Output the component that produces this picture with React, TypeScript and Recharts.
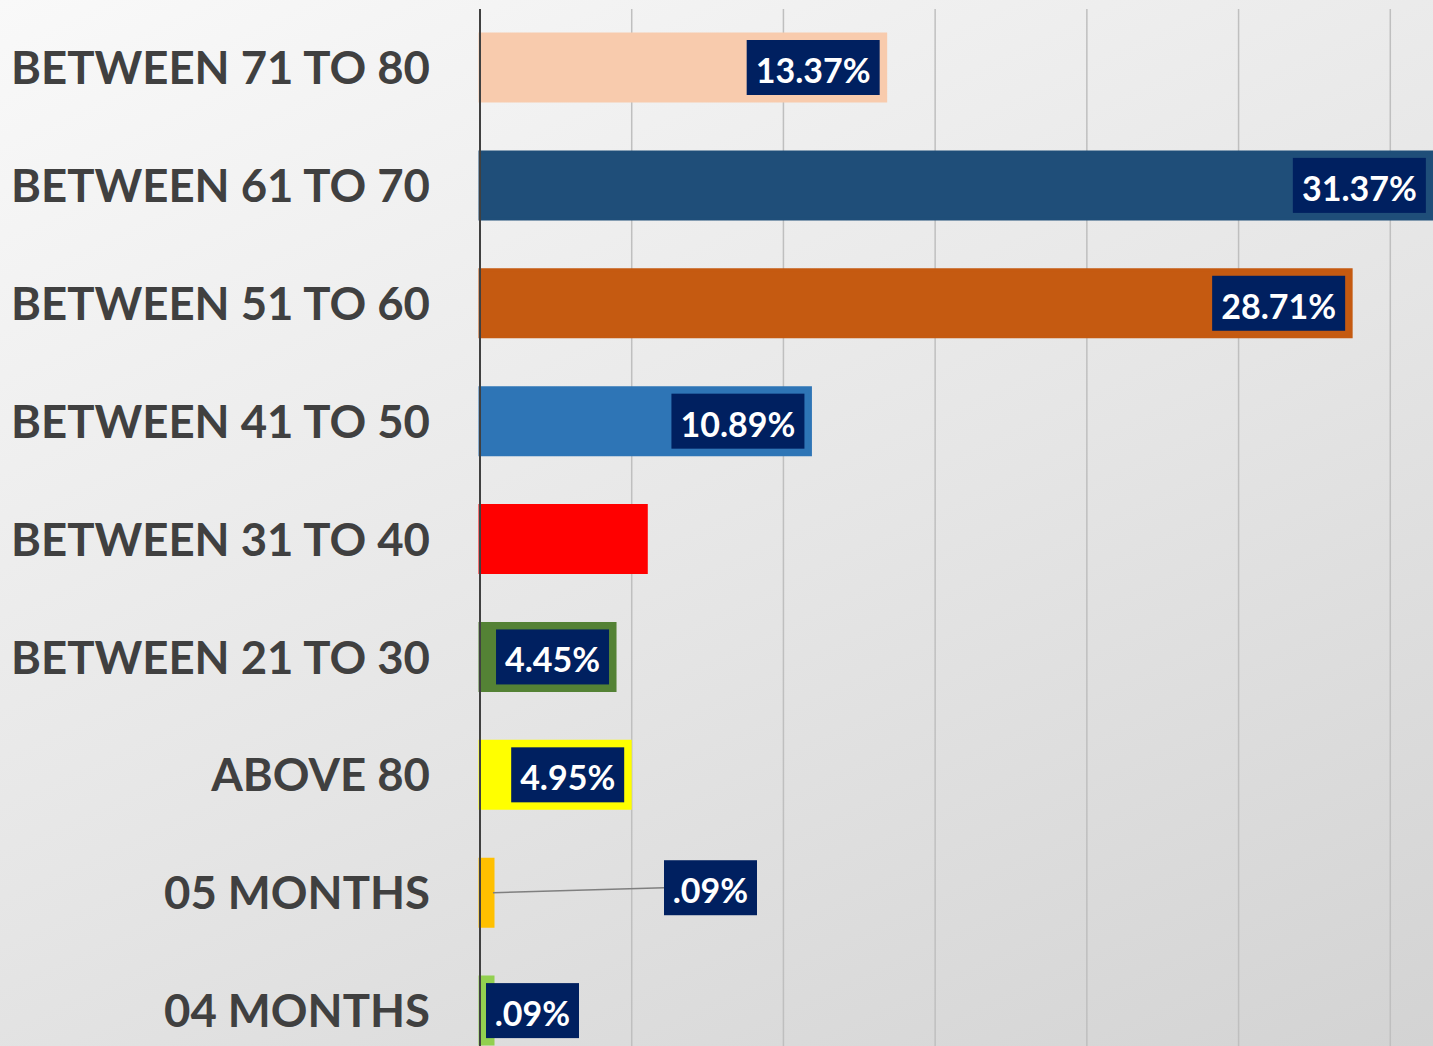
import { BarChart, Bar, XAxis, YAxis, CartesianGrid, LabelList, Cell, Rectangle } from 'recharts';

const categories = [
  'BETWEEN 71 TO 80',
  'BETWEEN 61 TO 70',
  'BETWEEN 51 TO 60',
  'BETWEEN 41 TO 50',
  'BETWEEN 31 TO 40',
  'BETWEEN 21 TO 30',
  'ABOVE 80',
  '05 MONTHS',
  '04 MONTHS',
];
const values = [13.37, 31.37, 28.71, 10.89, 5.48, 4.45, 4.95, 0.09, 0.09];
const labels = ['13.37%', '31.37%', '28.71%', '10.89%', '', '4.45%', '4.95%', '.09%', '.09%'];
const colors = ['#f8cbad', '#1f4e79', '#c55a11', '#2e75b6', '#ff0000', '#548235', '#ffff00', '#ffc000', '#92d050'];
const xTicks = [0, 5, 10, 15, 20, 25, 30, 35];

const data = categories.map((name, i) => ({ name, value: values[i], label: labels[i] }));

const MIN_BAR = 13;

const BarShape = (props: any) => {
  const w = Math.max(props.width, MIN_BAR);
  return <Rectangle {...props} width={w} />;
};

const NoTick = () => <g />;

const boxWidth = (text: string) => 53 + 20 * text.replace(/[^0-9]/g, '').length;

const ValueLabel = (props: any) => {
  const { x, y, width, height, index } = props;
  const text = labels[index];
  if (!text) return null;
  const bw = boxWidth(text);
  const bh = 55;
  const barEnd = x + Math.max(width, MIN_BAR);
  const cy = y + height / 2;
  let bx = barEnd - 6 - bw;
  let by = cy - bh / 2;
  let leader = null;
  if (index === 7) {
    bx = barEnd + 171;
    by = cy - 5 - bh / 2;
    leader = <line x1={barEnd} y1={cy} x2={bx} y2={cy - 5} stroke="#7f7f7f" strokeWidth={1.5} />;
  } else if (index === 8) {
    bx = x + 6;
  }
  return (
    <g>
      {leader}
      <rect x={bx} y={by} width={bw} height={bh} fill="#002060" />
      <text
        x={bx + bw / 2}
        y={by + bh / 2 + 2}
        fill="#ffffff"
        textAnchor="middle"
        dominantBaseline="central"
        fontFamily="Lato, sans-serif"
        fontWeight={700}
        fontSize={34}
      >
        {text}
      </text>
    </g>
  );
};

export default function App() {
  return (
    <div
      style={{
        position: 'fixed',
        left: 0,
        top: 0,
        width: 1433,
        height: 1046,
        overflow: 'hidden',
        background: 'linear-gradient(155deg, #f9f9f9 0%, #e5e5e5 55%, #d3d3d3 100%)',
      }}
    >
      <BarChart
        width={1542}
        height={1070}
        data={data}
        layout="vertical"
        margin={{ top: 9, right: 0, bottom: 0, left: 0 }}
      >
        <CartesianGrid horizontal={false} vertical={true} stroke="#bfbfbf" strokeWidth={1.5} />
        <XAxis
          type="number"
          domain={[0, 35]}
          ticks={xTicks}
          tick={<NoTick />}
          axisLine={false}
          tickLine={false}
          height={0}
        />
        <YAxis
          type="category"
          dataKey="name"
          width={480}
          axisLine={{ stroke: '#404040', strokeWidth: 2 }}
          tickLine={false}
          interval={0}
          tick={{ fill: '#404040', fontSize: 45.5, fontWeight: 700, fontFamily: 'Lato, sans-serif', dx: -42 }}
        />
        <Bar dataKey="value" barSize={67} isAnimationActive={false} shape={<BarShape />}>
          {data.map((d, i) => (
            <Cell key={d.name} fill={colors[i]} stroke={colors[i]} strokeWidth={3} />
          ))}
          <LabelList dataKey="label" content={<ValueLabel />} />
        </Bar>
      </BarChart>
    </div>
  );
}
